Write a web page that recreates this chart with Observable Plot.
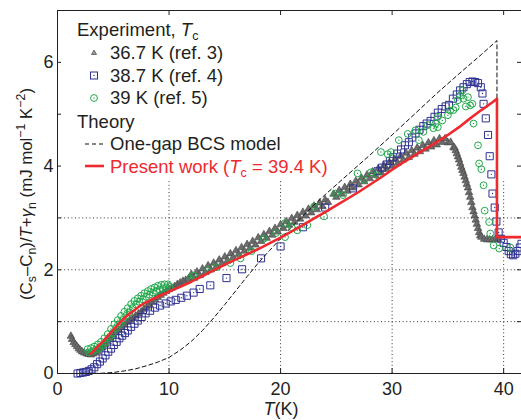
<!DOCTYPE html>
<html><head><meta charset="utf-8">
<script src="https://cdn.jsdelivr.net/npm/d3@7"></script>
<script src="https://cdn.jsdelivr.net/npm/@observablehq/plot@0.6"></script>
<style>body{margin:0;background:#fff}svg{display:block}</style>
</head><body><div id="chart"></div>
<script>
// ---- data (T in K, value in mJ mol^-1 K^-2) ----
const ref3 = [ // 36.7 K (ref. 3), triangles
[1.2,0.72],[1.3,0.66],[1.45,0.60],[1.6,0.56],[1.75,0.52],[1.9,0.48],[2.05,0.45],[2.2,0.42],[2.4,0.40],[2.6,0.38],[2.8,0.37],[3.0,0.36],[3.2,0.38],[3.4,0.40],[3.6,0.43],[3.8,0.47],[4.0,0.50],
[4.25,0.56],[4.5,0.62],[4.75,0.68],[5.0,0.74],[5.25,0.79],[5.5,0.84],[5.75,0.89],[6.0,0.94],[6.25,0.99],[6.5,1.03],[6.75,1.07],[7.0,1.11],[7.25,1.15],[7.5,1.19],[7.75,1.24],[8.0,1.28],[8.25,1.33],[8.5,1.38],[8.75,1.43],[9.0,1.47],[9.25,1.51],[9.5,1.55],[9.75,1.59],[10.0,1.62],[10.25,1.65],[10.5,1.68],[10.75,1.72],[11.0,1.75],[11.25,1.78],[11.5,1.80],[11.75,1.83],
[12.0,1.91],[12.25,1.84],[12.5,1.96],[12.75,1.89],[13.0,2.02],[13.25,1.95],[13.5,2.08],[13.75,2.00],[14.0,2.13],[14.25,2.06],[14.5,2.19],[14.75,2.12],[15.0,2.25],[15.25,2.18],[15.5,2.31],[15.75,2.24],[16.0,2.37],[16.25,2.30],[16.5,2.43],[16.75,2.36],[17.0,2.49],[17.25,2.42],[17.5,2.55],[17.75,2.48],[18.0,2.62],[18.25,2.55],[18.5,2.68],[18.75,2.61],[19.0,2.74],[19.25,2.67],[19.5,2.80],[19.75,2.73],[20.0,2.87],[20.25,2.80],[20.5,2.93],[20.75,2.86],[21.0,2.99],[21.25,2.92],[21.5,3.05],[21.75,2.98],[22.0,3.11],[22.25,3.04],[22.5,3.17],[22.75,3.10],[23.0,3.23],[23.25,3.16],[23.5,3.29],[23.75,3.22],[24.0,3.35],[24.25,3.30],
[24.75,3.46],[25.0,3.40],[25.25,3.53],[25.5,3.46],[25.75,3.59],[26.0,3.52],[26.25,3.65],[26.5,3.58],[26.75,3.71],[27.0,3.64],[27.25,3.77],[27.5,3.70],[27.75,3.83],[28.0,3.76],[28.25,3.89],[28.5,3.82],[28.75,3.95],[29.0,3.88],[29.25,4.01],[29.5,3.94],[29.75,4.07],[30.0,4.00],[30.25,4.13],[30.5,4.06],[30.75,4.19],[31.0,4.12],[31.25,4.25],[31.5,4.17],[31.75,4.30],[32.0,4.23],[32.25,4.35],[32.5,4.28],[32.75,4.40],[33.0,4.33],[33.25,4.45],[33.5,4.37],[33.75,4.49],[34.0,4.41],[34.25,4.53],[34.5,4.46],[34.75,4.53],[35.0,4.45],[35.25,4.46],[35.5,4.36],
[35.6,4.35],[35.7,4.30],[35.8,4.24],[35.9,4.18],[36.0,4.12],[36.1,4.05],[36.2,3.98],[36.3,3.92],[36.4,3.86],[36.5,3.79],[36.6,3.72],[36.7,3.65],[36.8,3.58],[36.9,3.49],[37.0,3.40],[37.1,3.30],[37.2,3.20],[37.3,3.12],[37.4,3.04],[37.5,2.96],[37.6,2.88],[37.7,2.80],[37.8,2.72],[37.9,2.66],[38.0,2.63],[38.25,2.59],[38.5,2.58],[38.75,2.58],[39.0,2.58],[39.25,2.58],[39.5,2.59]
];
const ref4 = [ // 38.7 K (ref. 4), squares
[1.8,0.00],[2.05,0.01],[2.3,0.02],[2.55,0.03],[2.8,0.05],[3.05,0.08],[3.3,0.12],[3.55,0.18],[3.8,0.23],[4.05,0.29],[4.3,0.35],[4.55,0.42],[4.8,0.48],[5.05,0.55],[5.3,0.61],[5.55,0.68],[5.8,0.73],[6.05,0.78],[6.3,0.83],[6.6,0.90],[6.9,0.96],[7.2,1.02],[7.55,1.09],[7.9,1.16],[8.3,1.21],[8.75,1.27],[9.2,1.31],[9.7,1.35],[10.15,1.39],[10.6,1.42],[11.1,1.46],[11.6,1.50],[12.2,1.56],[12.75,1.63],[13.7,1.70],[15.15,1.84],[16.55,2.01],[18.25,2.22],[20.0,2.45],[22.0,2.82],[24.0,3.20],[26.5,3.57],
[28.7,3.90],[29.1,3.97],[29.5,4.03],[29.8,4.10],[30.1,4.17],[30.45,4.24],[30.8,4.32],[31.15,4.40],[31.5,4.46],[31.8,4.55],[32.1,4.63],[32.45,4.70],[32.8,4.77],[33.1,4.82],[33.45,4.87],[33.8,4.95],[34.1,5.03],[34.45,5.10],[34.8,5.15],[35.1,5.18],[35.45,5.30],[35.8,5.38],[36.1,5.46],[36.4,5.52],[36.7,5.58],[36.95,5.62],[37.2,5.63],[37.45,5.62],[37.7,5.60],[37.95,5.52],[38.1,5.40],[38.2,5.20],[38.4,4.92],[38.6,4.60],[38.75,4.19],[38.9,3.84],[39.0,3.47],[39.2,3.20],[39.35,2.93],[39.55,2.72],[39.75,2.60],[40.0,2.52],[40.25,2.44],[40.45,2.36],[40.65,2.30],[40.85,2.28],[41.05,2.31],[41.25,2.36],[41.45,2.43],[41.6,2.50]
];
const ref5 = [ // 39 K (ref. 5), circles
[2.7,0.47],[2.85,0.41],[3.0,0.49],[3.15,0.43],[3.3,0.52],[3.45,0.46],[3.6,0.56],[3.75,0.49],[3.9,0.61],[4.05,0.54],[4.2,0.68],[4.35,0.60],[4.5,0.76],[4.65,0.69],[4.8,0.86],[4.95,0.78],[5.1,0.95],[5.25,0.87],[5.4,1.03],[5.55,0.95],[5.7,1.11],[5.85,1.03],[6.0,1.19],[6.15,1.11],[6.3,1.26],[6.45,1.18],[6.6,1.34],[6.75,1.26],[6.9,1.40],[7.05,1.33],[7.2,1.45],[7.35,1.38],[7.5,1.50],[7.65,1.43],[7.8,1.55],[7.95,1.48],[8.1,1.59],[8.25,1.52],[8.4,1.63],[8.55,1.56],[8.7,1.66],[8.85,1.59],[9.0,1.69],[9.15,1.62],[9.3,1.71],[9.45,1.64],[9.6,1.72],[9.75,1.66],[9.9,1.72],[10.05,1.67],
[11.9,1.83],[12.2,1.89],[13.5,2.00],[14.3,2.05],[15.5,2.13],[16.4,2.22],[17.4,2.36],[18.5,2.60],[19.6,2.71],[20.4,2.90],[20.4,2.63],[21.0,2.82],[21.5,2.76],[22.4,2.86],[23.0,3.22],[23.9,3.03],[24.9,3.47],[25.6,3.44],[26.9,3.86],[27.5,3.73],[28.1,3.88],[28.7,3.82],[29.0,4.27],[29.6,4.23],[29.9,4.27],[30.6,4.50],[31.4,4.62],[32.1,4.69],[32.4,4.50],[32.8,4.66],[33.2,4.79],[33.7,4.73],[33.9,4.82],[34.1,4.95],[34.1,4.75],[34.5,4.88],[35.0,4.98],[35.2,5.07],[35.5,5.08],[35.7,5.13],[35.9,5.27],[36.1,5.36],[36.3,5.46],[36.4,5.30],[36.6,5.15],[36.8,5.33],[37.0,5.17],[37.2,5.20],[37.3,4.82],[37.7,4.40],[37.8,4.05],[38.0,3.94],[38.2,3.63],[38.3,3.14],[38.7,2.92],[38.8,2.70],[39.1,2.47],[39.6,2.41],[40.6,2.43]
];
const bcs = [ // one-gap BCS model (dashed)
[2,0],[3,0],[4,0.005],[5,0.02],[6,0.05],[7,0.09],[8,0.15],[9,0.22],[10,0.31],[11,0.45],[12,0.62],[13,0.83],[14,1.07],[15,1.33],[16,1.6],[17,1.87],[18,2.13],[19,2.37],[20,2.6],[21,2.83],[22,3.04],[23,3.25],[24,3.45],[26,3.83],[28,4.21],[30,4.6],[32,5.0],[34,5.4],[36,5.78],[38,6.15],[39.4,6.42],[39.4,2.62],[41.6,2.62]
];
const present = [ // present work, Tc = 39.4 K (red)
[3.0,0.38],[3.5,0.5],[4,0.6],[4.5,0.72],[5,0.84],[5.5,0.96],[6,1.07],[6.5,1.16],[7,1.24],[7.5,1.32],[8,1.38],[9,1.48],[10,1.58],[11,1.67],[12,1.77],[13,1.88],[14,1.99],[15,2.1],[16,2.2],[17,2.3],[18,2.4],[19,2.51],[20,2.62],[21,2.74],[22,2.86],[23,2.99],[24,3.11],[25,3.24],[26,3.37],[27,3.5],[28,3.64],[29,3.78],[30,3.93],[31,4.07],[32,4.2],[33,4.33],[34,4.46],[35,4.6],[36,4.75],[37,4.92],[38,5.08],[39,5.23],[39.4,5.3],[39.4,2.63],[41.6,2.63]
];
const xTicks = [0, 10, 20, 30, 40];
const yTicks = [0, 2, 4, 6];
const yMinorTicks = [1, 2, 3, 4, 5, 6];
const gridX = [10, 20, 30, 40];
const gridY = [1, 2, 3];
const gridTop = 3.75;

const C = {gray:"#444", grayFill:"#6c6c6c", blue:"#2e3192", green:"#1fa84a", red:"#ee2a2e", ink:"#231f20"};
const toObj = a => a.map(([T, v]) => ({T, v}));
const d3ref = toObj(ref3), d4 = toObj(ref4), d5 = toObj(ref5), dB = toObj(bcs), dP = toObj(present);

const W = 521, H = 420, mL = 57, mR = 0, mT = 10, mB = 47;
const innerW = W - mL - mR, innerH = H - mT - mB;
const dotted = {stroke: "#333", strokeWidth: 1, strokeDasharray: "1,2.6"};

const svg = Plot.plot({
  width: W, height: H, marginLeft: mL, marginRight: mR, marginTop: mT, marginBottom: mB,
  x: {domain: [0, 41.6]}, y: {domain: [0, 7]},
  style: {fontFamily: "'Liberation Sans', Arial, sans-serif", fontSize: "18px", color: C.ink, background: "#fff", overflow: "visible"},
  marks: [
    Plot.ruleY(gridY, dotted),
    Plot.ruleX(gridX, {...dotted, y1: 0, y2: gridTop}),
    // inward ticks
    Plot.tickX(xTicks, {insetTop: innerH - 5, stroke: C.ink}),
    Plot.tickX(xTicks, {insetBottom: innerH - 5, stroke: C.ink}),
    Plot.tickY(yMinorTicks, {insetRight: innerW - 4, stroke: C.ink}),
    Plot.tickY(yMinorTicks, {insetLeft: innerW - 4, stroke: C.ink}),
    Plot.axisX(xTicks, {tickSize: 0, tickPadding: 9, label: null, fontSize: 18, tickFormat: "d"}),
    Plot.axisY(yTicks, {tickSize: 0, tickPadding: 4, label: null, fontSize: 18, tickFormat: "d"}),
    // data
    Plot.dot(d3ref, {x: "T", y: "v", symbol: "triangle", r: 2.8, stroke: C.gray, fill: C.grayFill, strokeWidth: 0.6}),
    Plot.dot(d4, {x: "T", y: "v", symbol: "square", r: 4, stroke: C.blue, fill: "none", strokeWidth: 1}),
    Plot.dot(d4, {x: "T", y: "v", r: 0.7, fill: C.blue}),
    Plot.dot(d5, {x: "T", y: "v", r: 3.4, stroke: C.green, fill: "none", strokeWidth: 1}),
    Plot.dot(d5, {x: "T", y: "v", r: 0.7, fill: C.green}),
    Plot.line(dB, {x: "T", y: "v", stroke: "#111", strokeWidth: 1, strokeDasharray: "4,3"}),
    Plot.line(dP, {x: "T", y: "v", stroke: C.red, strokeWidth: 2.6}),
    // frame (left, bottom, top)
    Plot.ruleX([0], {stroke: C.ink}),
    Plot.ruleY([0], {stroke: C.ink}),
    Plot.ruleY([7], {stroke: C.ink})
  ]
});
document.getElementById("chart").appendChild(svg);

// ---- rich text helpers (legend and axis titles) ----
const S = d3.select(svg);
const FONT = "'Liberation Sans', Arial, sans-serif";
function rich(g, x, y, parts, attrs = {}) {
  const t = g.append("text").attr("x", x).attr("y", y).attr("font-family", FONT);
  for (const k in attrs) t.attr(k, attrs[k]);
  let shift = 0;
  for (const [s, k] of parts) {
    const sp = t.append("tspan").text(s);
    const target = k.includes("sub") ? 4 : k.includes("sup") ? -7 : 0;
    if (target !== shift) { sp.attr("dy", target - shift); shift = target; }
    if (target !== 0) sp.attr("font-size", "12.5px");
    if (k.includes("i")) sp.attr("font-style", "italic");
  }
  return t;
}
const lg = S.append("g").attr("font-size", "18.5px").attr("fill", C.ink).attr("text-anchor", "start");
rich(lg, 77, 36, [["Experiment, ", ""], ["T", "i"], ["c", "sub"]]);
rich(lg, 110, 59, [["36.7 K (ref. 3)", ""]]);
rich(lg, 110, 82, [["38.7 K (ref. 4)", ""]]);
rich(lg, 110, 104, [["39 K (ref. 5)", ""]]);
rich(lg, 77, 128, [["Theory", ""]]);
rich(lg, 110, 150, [["One-gap BCS model", ""]]);
rich(lg, 110, 173, [["Present work (", ""], ["T", "i"], ["c", "sub"], [" = 39.4 K)", ""]], {fill: C.red});
lg.append("path").attr("d", d3.symbol(d3.symbolTriangle, Math.PI * 1.9 * 1.9)()).attr("transform", "translate(94,53)")
  .attr("stroke", "#555").attr("fill", "#999").attr("stroke-width", 0.8);
lg.append("rect").attr("x", 90.5).attr("y", 72).attr("width", 7).attr("height", 7).attr("fill", "none").attr("stroke", C.blue);
lg.append("circle").attr("cx", 94).attr("cy", 75.5).attr("r", 0.7).attr("fill", C.blue);
lg.append("circle").attr("cx", 94).attr("cy", 98).attr("r", 3.4).attr("fill", "none").attr("stroke", C.green);
lg.append("circle").attr("cx", 94).attr("cy", 98).attr("r", 0.7).attr("fill", C.green);
lg.append("line").attr("x1", 85).attr("x2", 104).attr("y1", 144).attr("y2", 144).attr("stroke", "#111").attr("stroke-dasharray", "4,3");
lg.append("line").attr("x1", 85).attr("x2", 104).attr("y1", 166).attr("y2", 166).attr("stroke", C.red).attr("stroke-width", 2.6);

// axis titles
rich(S, 281, 415, [["T", "i"], ["(K)", ""]], {"text-anchor": "middle", "font-size": "18px", fill: C.ink});
rich(S, 0, 0, [["(C", ""], ["s", "sub"], ["\u2013C", ""], ["n", "sub"], [")/", ""], ["T", "i"], ["+", ""], ["\u03b3", "i"], ["n", "sub"], [" (mJ mol", ""], ["\u22121", "sup"], [" K", ""], ["\u22122", "sup"], [")", ""]],
  {"text-anchor": "middle", "font-size": "17px", fill: C.ink, transform: "translate(32,194) rotate(-90)", textLength: 212, lengthAdjust: "spacingAndGlyphs"});
</script></body></html>
